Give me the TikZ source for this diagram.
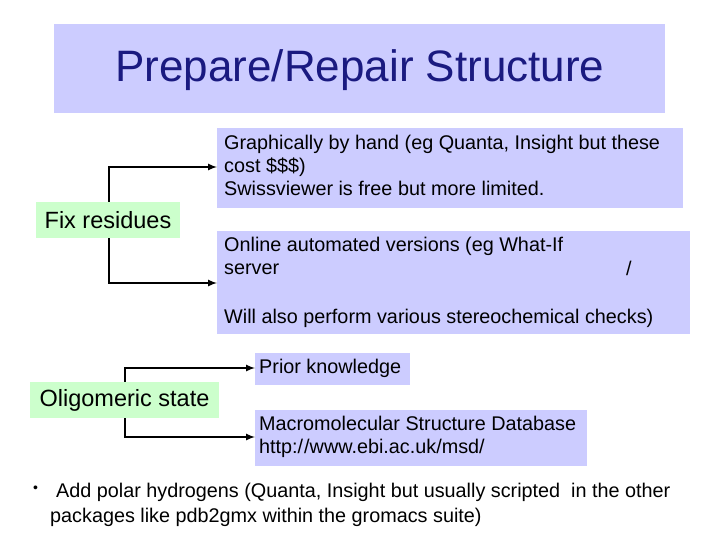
\documentclass[tikz,border=0pt]{standalone}
\usepackage{fontspec}
\setmainfont{Liberation Sans}
\begin{document}
\begin{tikzpicture}[x=1pt,y=-1pt,
  bx/.style={fill=blue!20,inner sep=0pt,anchor=north west},
  gx/.style={fill=green!20,inner sep=0pt,font=\fontsize{23.5}{26}\selectfont},
  tx/.style={anchor=north west,inner sep=0pt,align=left,font=\fontsize{19.8}{23}\selectfont},
  arr/.style={line width=2pt,-latex}]
\useasboundingbox (0,0) rectangle (720,540);
\fill[blue!20] (54,24) rectangle (665,113);
\node (title) at (360,70) {\fontsize{44}{48}\selectfont\color[HTML]{1A1A80}Prepare/Repair Structure};
\node[bx,minimum width=466pt,minimum height=80pt] (b1) at (217,128) {};
\node[tx] (t1) at (224,135) {Graphically by hand (eg Quanta, Insight but these\\cost \$\$\$)\\Swissviewer is free but more limited.};
\node[bx,minimum width=473pt,minimum height=103pt] (b2) at (217,231) {};
\node[tx] (t2) at (224,237) {Online automated versions (eg What-If\\server\\[26pt]Will also perform various stereochemical checks)};
\node[tx] (sl) at (626,261) {/};
\node[gx,minimum width=144pt,minimum height=36pt] (fix) at (108,220) {Fix residues};
\node[bx,minimum width=155pt,minimum height=32pt] (p) at (255,353) {};
\node[tx] (pt) at (259,359) {Prior knowledge};
\node[bx,minimum width=332pt,minimum height=56pt] (m) at (255,410) {};
\node[tx] (mt) at (259,416) {Macromolecular Structure Database\\http:/\kern1pt/www.ebi.ac.uk/msd/};
\node[gx,minimum width=189pt,minimum height=36pt] (olig) at (124.5,400) {Oligomeric state};
\draw[arr] (fix.north -| 109,0) |- (217,167);
\draw[arr] (fix.south -| 109,0) |- (217,283);
\draw[arr] (olig.north -| 125,0) |- (255,368);
\draw[arr] (olig.south -| 125,0) |- (255,437);
\node[tx,font=\fontsize{14}{16}\selectfont] (bul) at (33,486) {•};
\node[tx] (bt) at (56,483) {Add polar hydrogens (Quanta, Insight but usually scripted\ \ in the other\\[2pt]\hspace{-6pt}packages like pdb2gmx within the gromacs suite)};
\end{tikzpicture}
\end{document}
